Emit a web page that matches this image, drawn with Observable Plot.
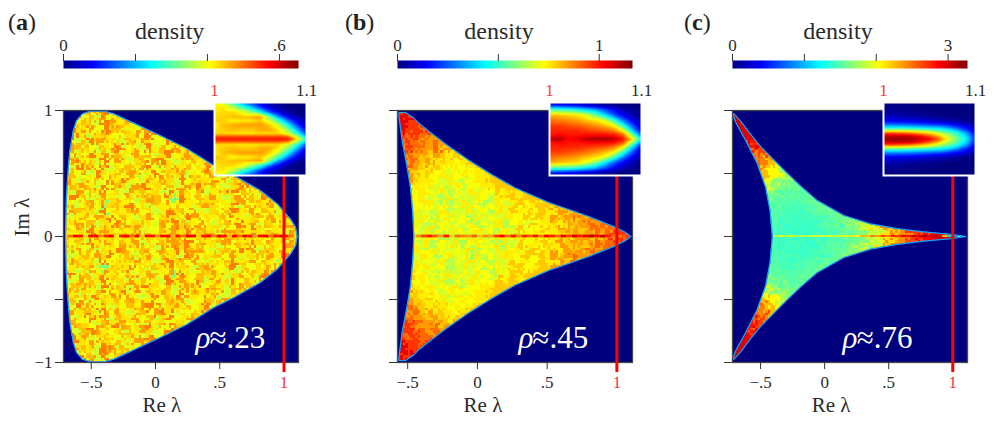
<!DOCTYPE html>
<html><head><meta charset="utf-8">
<script src="https://cdn.jsdelivr.net/npm/d3@7"></script>
<script src="https://cdn.jsdelivr.net/npm/@observablehq/plot@0.6"></script>
<style>
html,body{margin:0;padding:0;background:#fff}
#fig{position:relative;width:997px;height:434px;overflow:hidden;font-family:"Liberation Serif",serif;color:#222}
#fig>svg,#fig>div{position:absolute}
#fig svg, #fig svg text{font-family:"Liberation Serif",serif !important}
.tag{font-size:24px;top:9px}
</style></head><body><div id="fig"></div>
<script>
// ---- jet colour map
const jetStops = [0,.125,.375,.625,.875,1];
const jetColors = ["#00007f","#0000ff","#00ffff","#ffff00","#ff0000","#7f0000"];
// ---- colour bar maxima and ticks
const maxA = .653, maxB = 1.165, maxC = 3.27;
const barTicksA = [0,.2,.4,.6], barTicksB = [0,.5,1], barTicksC = [0,1,2,3];
const barLabelsA = {0:"0",0.6:".6"}, barLabelsB = {0:"0",1:"1"}, barLabelsC = {0:"0",3:"3"};
// ---- boundaries of the upper half (Re, Im), tip first
const edgeReA = [1.102,1.09,1.05,.947,.817,.61,.454,.246,.04,-.169,-.324,-.40,-.506,-.57,-.615,-.64,-.667,-.682,-.695,-.70];
const edgeImA = [0,.074,.14,.26,.365,.484,.563,.696,.80,.90,.973,.995,.995,.973,.92,.84,.68,.50,.286,0];
const edgeReB = [1.10,1.06,.988,.797,.51,.272,.105,.01,-.062,-.229,-.348,-.42,-.456,-.515,-.563,-.563,-.54,-.504,-.48,-.463,-.456];
const edgeImB = [0,.034,.074,.159,.27,.385,.49,.556,.605,.735,.835,.90,.94,.984,.984,.96,.76,.55,.39,.18,0];
const edgeReC = [1.10,.98,.774,.566,.358,.15,-.057,-.187,-.3,-.447,-.5,-.577,-.655,-.706,-.717,-.694,-.616,-.525,-.46,-.426,-.408];
const edgeImC = [0,.018,.036,.062,.10,.167,.285,.40,.51,.66,.715,.81,.915,.973,.973,.907,.762,.577,.39,.206,0];
// ---- density estimates on a grid; one digit per Re column, one string per |Im| row, digit = index into the levels
const colsA = d3.range(37).map(i=>-.7+i*.05);
const rowsA = d3.range(21).map(i=>i*.05);
const levelsA = [33,38,40,42,43,45,47,49,49,49];
const densA = [
"4352463524635243652534625364352463545",
"5241736425361425364725341625374253164",
"3462514376245316274536214527361542635",
"4135264725314625341762435263145263742",
"2653417243562413745263142573462531465",
"5314620453724153624315642371524362514",
"3725146352413652407325463146253741526",
"4162537241635241736425136472531642537",
"2546317254167342513647253146254136254",
"6314252637421536417253462154732651342",
"3526174352641372546132541637254316245",
"4173625142536721463524715362431562437",
"2635417263145267314253642157342615342",
"5142736154362514723645136274153264153",
"3654215376241735264152637142536142635",
"4215763241536412735462134752613542163",
"2736145325461723514263541726342513764",
"5143627451326571436254173261452637415",
"3625417635214637524163254713625142637",
"4372516243615243716253462715341625374",
"2514637125436251743621574362513476215"];
const colsB = d3.range(35).map(i=>-.6+i*.05);
const rowsB = d3.range(21).map(i=>i*.05);
const levelsB = [58,64,68,72,75,79,84,90,96,104];
const densB = [
"33332431423423143243353454656576878",
"33432413241342314253435465656767887",
"33342143232413241342534546567677777",
"34324313423142324435354656766666666",
"43442324132423142534354465655555555",
"44343423124231342453455655555555555",
"44534231423243143545555555555555555",
"54534324132423354545555555555555555",
"55543423241334455555555",
"55654432432344555555555",
"65654534234344555555555",
"66765454343455555555555",
"66675645434555555555555",
"76766565455555555555",
"77876675655555555555",
"77877676665555555555",
"88787767666666666666",
"89887877766666666666",
"89988877776666666666",
"99898877776666666666",
"99998887776666666666"];
const colsC = [-.7,-.6,-.5,-.4,-.3,-.2,-.1,0,.1,.2,.3,.4,.5,.6,.7,.8,.9,1,1.1];
const rowsC = [0,.04,.08,.14,.2,.3,.4,.5,.6,.7,.8,.9,1];
const densC = [
[150,150,150,145,140,140,145,140,150,155,165,195,215,245,270,290,310,300,260],
[150,150,150,145,145,140,140,145,145,155,165,185,215,240,265,285,300,300,200],
[150,150,150,145,140,145,140,150,155,165,185,215,240,255,260,260,260,260,200],
[150,150,150,150,145,140,145,145,155,165,180,200,220,230,230,230,230,230,200],
[160,160,150,150,145,145,150,155,160,170,180,200,200,200,200,200,200,200,200],
[175,175,165,155,150,150,155,160,165,170,180,180,180,180,180,180,180,180,180],
[195,195,195,170,160,155,160,165,170,170,170,170,170,170,170,170,170,170,170],
[225,225,225,205,180,165,170,170,170,170,170,170,170,170,170,170,170,170,170],
[255,255,245,225,195,180,180,180,180,180,180,180,180,180,180,180,180,180,180],
[280,280,265,240,215,200,200,200,200,200,200,200,200,200,200,200,200,200,200],
[300,295,280,255,230,230,230,230,230,230,230,230,230,230,230,230,230,230,230],
[300,290,270,260,260,260,260,260,260,260,260,260,260,260,260,260,260,260,260],
[300,290,280,270,270,270,270,270,270,270,270,270,270,270,270,270,270,270,270]];
// ---- density along the real axis, hundredths, one value per bin
const stripA = [50,57,56,43,57,58,48,55,58,42,56,57,50,58,44,57,56,48,57,58,46,56,50,58,57,44,56,57,49,58,56,45,57,50,58,56,46,57,58,50,56,58,56,50];
const stripB = [86,95,100,92,85,100,78,90,88,84,92,80,86,84,96,102,90,100,86,98,92,100,88,102,98,90,104,96,106,100,104,110,102,108,100,90,86];
const stripC = [180,195,185,200,180,190,180,195,185,200,190,195,185,205,190,210,200,230,225,250,240,270,255,285,270,300,290,315,290,320,300,310,290,220,120,90,130];
// ---- inset density, hundredths; columns Re 1 to 1.1, rows by fraction of half height
const insetCols = [1,1.01,1.02,1.03,1.04,1.05,1.06,1.07,1.08,1.09,1.1];
const insetRowsA = [0,.07,.15,.25,.38,.5,.6,.75,.88,1];
const insetA = [
[56,56,56,56,56,56,56,56,56,42,25],
[52,52,52,52,52,52,52,52,50,36,20],
[43,43,43,42,42,43,43,43,38,27,12],
[42,44,45,44,44,46,46,42,34,20,8],
[41,45,46,47,47,47,44,37,25,12,4],
[45,44,41,42,42,44,38,28,16,7,2],
[43,44,45,45,46,47,33,18,8,3,0],
[42,43,43,40,33,24,13,6,2,0,0],
[42,42,36,28,20,11,5,2,0,0,0],
[42,38,28,18,11,6,3,1,0,0,0]];
const insetRowsB = [0,.1,.22,.35,.5,.65,.8,.92,1];
const insetB = [
[108,112,102,104,110,112,112,110,100,76,40],
[100,102,100,100,102,102,102,100,92,62,28],
[98,98,98,98,96,94,92,88,74,40,14],
[96,96,94,92,90,86,82,74,52,26,8],
[90,88,86,84,80,76,70,52,30,14,4],
[82,80,78,76,70,58,42,26,14,6,2],
[54,52,50,46,40,34,24,14,6,2,0],
[20,18,16,14,10,8,4,2,0,0,0],
[8,8,6,6,4,3,2,0,0,0,0]];
const insetRowsC = [0,.08,.15,.22,.3,.4,.5,.65,.8,1];
const insetC = [
[315,320,320,315,305,290,255,200,160,120,50],
[300,305,305,300,285,260,230,185,150,110,45],
[270,270,265,255,240,220,195,165,135,95,40],
[205,205,200,195,185,175,155,135,110,70,30],
[130,130,130,125,120,115,110,95,70,45,20],
[75,75,72,70,65,60,55,45,35,22,10],
[38,36,34,30,28,25,20,15,10,5,0],
[15,14,12,10,8,5,3,0,0,0,0],
[5,5,3,2,0,0,0,0,0,0,0],
[0,0,0,0,0,0,0,0,0,0,0]];

const NAVY = jetColors[0], INK = "#2a2a2a", RED = "#ff0000", REDTXT = "#f5393f";
const fig = document.getElementById("fig");

function colorOf(max){return {type:"linear",domain:jetStops.map(t=>t*max),range:jetColors,interpolate:"rgb",clamp:true};}
function place(svg,left,top){svg.style.left=left+"px";svg.style.top=top+"px";svg.style.background="transparent";svg.style.maxWidth="none";fig.appendChild(svg);}
function samples(cols,rows,vals){
  const out=[];
  rows.forEach((im,j)=>cols.forEach((re,i)=>{
    out.push({re,im,v:vals[j][i]/100});
    if(im>0) out.push({re,im:-im,v:vals[j][i]/100});
  }));
  return out;
}
function digitSamples(cols,rows,strs,levels){
  const out=[];
  rows.forEach((im,j)=>[...strs[j]].forEach((c,i)=>{
    const v=levels[+c]/100;
    out.push({re:cols[i],im,v});
    if(im>0) out.push({re:cols[i],im:-im,v});
  }));
  return out;
}
const fmtTick = d => d===0?"0":(d<0?"\u2212":"")+String(Math.abs(d)).replace(/^0/,"");

function panel(o){
  const [x0,x1]=o.xDomain;
  const upper=o.edgeRe.map((re,i)=>[re,o.edgeIm[i]]);
  const lower=upper.slice(1,-1).reverse().map(([re,im])=>[re,-im]);
  const ring=[...upper,...lower,upper[0]];
  const mask={type:"Polygon",coordinates:[[[x0,-1],[x0,1],[x1,1],[x1,-1],[x0,-1]],ring]};
  const ringPts=ring.map(([re,im])=>({re,im}));
  const strip=o.strip.map((v,i)=>({a:o.stripStart+i*.04,b:o.stripStart+(i+1)*.04,v:v/100}));
  const marks=[
    Plot.raster(o.pts,{x:"re",y:"im",fill:"v",interpolate:"random-walk",pixelSize:2.5,imageRendering:"pixelated"}),
    Plot.rect(strip,{x1:"a",x2:"b",y1:()=>-o.stripH,y2:()=>o.stripH,fill:"v"}),
    Plot.geo(mask,{fill:NAVY,stroke:"none"}),
    Plot.line(ringPts,{x:"re",y:"im",stroke:"#0a78ff",strokeWidth:1.2,curve:"linear"}),
    Plot.line(ringPts,{x:"re",y:"im",stroke:"#35e0e6",strokeWidth:.5,curve:"linear"}),
    Plot.frame({stroke:"#4a4a4a",strokeWidth:1.3}),
    Plot.axisX({ticks:[-.5,0,.5],tickFormat:fmtTick,tickSize:7,tickPadding:6,fontSize:17,stroke:"#333",fill:INK,label:null}),
    Plot.axisX({ticks:[1],tickFormat:fmtTick,tickSize:0,tickPadding:13,fontSize:17,fill:REDTXT,label:null}),
    Plot.axisY({ticks:[-1,-.5,0,.5,1],tickFormat:o.yLabels?(d=>d===1?"1":d===0?"0":d===-1?"\u22121":""):(()=>""),tickSize:8,tickPadding:3,fontSize:17,stroke:"#333",fill:INK,label:null}),
    Plot.ruleX([1],{y1:()=>-1.08,y2:()=>.5,stroke:RED,strokeWidth:3}),
    Plot.text(["Re \u03bb"],{x:()=>o.labelX,frameAnchor:"bottom",lineAnchor:"middle",dy:43,fontSize:21,fill:INK}),
    Plot.text(["\u03c1"],{x:()=>o.rhoX,y:()=>-.81,textAnchor:"start",fontSize:31,fontStyle:"italic",fill:"#fff"}),
    Plot.text([o.rho],{x:()=>o.rhoX+o.rhoGap,y:()=>-.81,textAnchor:"start",fontSize:31,fill:"#fff"})
  ];
  if(o.yLabels) marks.push(Plot.text(["Im \u03bb"],{y:()=>0,frameAnchor:"left",lineAnchor:"middle",dx:-41,rotate:-90,fontSize:21,fill:INK}));
  const svg=Plot.plot({width:o.w,height:320,marginLeft:o.ml,marginRight:o.mr,marginTop:20,marginBottom:48,
    x:{domain:o.xDomain},y:{domain:[-1,1]},color:colorOf(o.max),style:{background:"transparent",overflow:"visible"},marks});
  place(svg,o.left,90);
}
function colorbar(o){
  const svg=Plot.plot({width:275,height:60,marginLeft:20,marginRight:20,marginTop:50,marginBottom:2,
    x:{domain:[0,o.max]},y:{domain:[0,1],axis:null},color:colorOf(o.max),style:{background:"transparent",overflow:"visible"},
    marks:[
      Plot.raster({x1:0,x2:o.max,y1:0,y2:1,fill:(x,y)=>x,pixelSize:1}),
      Plot.axisX({anchor:"top",ticks:o.ticks,tickFormat:d=>o.labels[d]??"",tickSize:7,tickPadding:3,fontSize:17,stroke:"#333",fill:INK,label:null}),
      Plot.text(["density"],{x:()=>o.titleX,frameAnchor:"top",lineAnchor:"middle",dy:-29,fontSize:24,letterSpacing:"0.8px",fill:INK})
    ]});
  place(svg,o.left-20,10);
}
function inset(o){
  const svg=Plot.plot({width:132,height:100,marginLeft:20,marginRight:20,marginTop:24,marginBottom:3,
    x:{domain:[1,1.1],axis:null},y:{domain:[-1,1],axis:null},color:colorOf(o.max),style:{background:"transparent",overflow:"visible"},
    marks:[
      Plot.raster(samples(insetCols,o.rows,o.vals),{x:"re",y:"im",fill:"v",interpolate:"barycentric",pixelSize:1}),
      Plot.frame({stroke:"#fff",strokeWidth:2}),
      Plot.text(["1"],{x:()=>1,frameAnchor:"top",lineAnchor:"middle",dy:-12,fontSize:17,fill:REDTXT}),
      Plot.text(["1.1"],{x:()=>1.1,frameAnchor:"top",lineAnchor:"middle",dy:-12,fontSize:17,fill:INK})
    ]});
  place(svg,o.left-20,78);
}
panel({left:0,w:330,ml:63,mr:32,xDomain:[-.716,1.113],max:maxA,pts:digitSamples(colsA,rowsA,densA,levelsA),edgeRe:edgeReA,edgeIm:edgeImA,strip:stripA,stripStart:-.68,stripH:.011,labelX:.05,rhoX:.311,rhoGap:.11,rho:"\u2248.23",yLabels:true});
panel({left:335,w:330,ml:62,mr:33,xDomain:[-.573,1.112],max:maxB,pts:digitSamples(colsB,rowsB,densB,levelsB),edgeRe:edgeReB,edgeIm:edgeImB,strip:stripB,stripStart:-.44,stripH:.011,labelX:.04,rhoX:.294,rhoGap:.1,rho:"\u2248.45"});
panel({left:670,w:327,ml:62,mr:30,xDomain:[-.719,1.115],max:maxC,pts:samples(colsC,rowsC,densC),edgeRe:edgeReC,edgeIm:edgeImC,strip:stripC,stripStart:-.40,stripH:.007,labelX:.05,rhoX:.14,rhoGap:.11,rho:"\u2248.76"});
colorbar({left:63,max:maxA,ticks:barTicksA,labels:barLabelsA,titleX:.295});
colorbar({left:397,max:maxB,ticks:barTicksB,labels:barLabelsB,titleX:.503});
colorbar({left:732,max:maxC,ticks:barTicksC,labels:barLabelsC,titleX:1.468});
inset({left:214,max:maxA,rows:insetRowsA,vals:insetA});
inset({left:549,max:maxB,rows:insetRowsB,vals:insetB});
inset({left:883,max:maxC,rows:insetRowsC,vals:insetC});
[["a",8],["b",345],["c",684]].forEach(([t,l])=>{
  const d=document.createElement("div");d.className="tag";d.style.left=l+"px";
  d.innerHTML="(<b>"+t+"</b>)";fig.appendChild(d);
});
</script></body></html>
